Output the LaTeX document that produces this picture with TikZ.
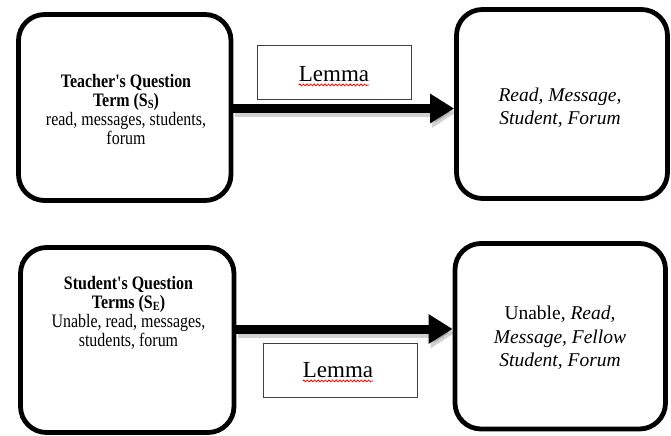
\documentclass[tikz,border=0pt]{standalone}
\usepackage{fontspec}
\setmainfont{Liberation Serif}
\newfontfamily\narrowserif{Liberation Serif}[FakeStretch=0.84]
\usetikzlibrary{arrows.meta,decorations.pathmorphing}

% small lowered index letter for the term-set names
\newcommand{\setindex}[1]{\raisebox{-1.5bp}{\fontsize{12.5bp}{12bp}\selectfont #1}}

\tikzset{
  termbox/.style={draw=black, line width=4.8bp, rounded corners=26bp, fill=white, inner sep=0pt},
  lemmabox/.style={draw=black!75, line width=0.9bp, fill=white, inner sep=0pt,
                   minimum width=154bp, minimum height=54bp},
  lemmatext/.style={font=\fontsize{23bp}{26bp}\selectfont, inner sep=0pt},
  querytext/.style={font=\narrowserif\fontsize{19bp}{19bp}\selectfont, align=center, inner sep=0pt},
  resulttext/.style={font=\fontsize{19.5bp}{23.5bp}\selectfont, align=center, inner sep=0pt},
  flowarrow/.style={line width=9bp, -{Triangle[length=24bp, width=28bp]}},
  arrowshadow/.style={line width=10bp, black, opacity=0.18, -{Triangle[length=24bp, width=29bp]}},
  spellmark/.style={draw=red, line width=0.8bp, decorate,
                    decoration={snake, amplitude=0.9bp, segment length=3.6bp}}
}

\begin{document}
\begin{tikzpicture}[x=1bp, y=-1bp]
  \useasboundingbox (0,0) rectangle (671,436);

  % term boxes
  \node[termbox, minimum width=212.5bp, minimum height=186bp] (tq) at (124.75,107.5) {};
  \node[termbox, minimum width=211bp, minimum height=189bp] (tr) at (562,104) {};
  \node[termbox, minimum width=213.5bp, minimum height=185bp] (sq) at (127.25,340) {};
  \node[termbox, minimum width=210.5bp, minimum height=185.5bp] (sr) at (560.25,336.25) {};

  % box contents
  \node[querytext] (tqt) at (126,110)
    {\textbf{Teacher's Question}\\\textbf{Term (S\setindex{S})}\\read, messages, students,\\forum};
  \node[resulttext] (trt) at (560,107.5)
    {\textit{Read, Message,}\\\textit{Student, Forum}};
  \node[querytext] (sqt) at (128.5,313)
    {\textbf{Student's Question}\\\textbf{Terms (S\setindex{E})}\\Unable, read, messages,\\students, forum};
  \node[resulttext] (srt) at (560,338)
    {Unable, \textit{Read,}\\\textit{Message, Fellow}\\\textit{Student, Forum}};

  % connectors
  \coordinate (a1s) at (tq.east |- 0,108.5);
  \coordinate (a1e) at (tr.west |- 0,108.5);
  \coordinate (a2s) at (sq.east |- 0,329);
  \coordinate (a2e) at (sr.west |- 0,329);
  \draw[arrowshadow] ([shift={(2,4)}]a1s) -- ([shift={(2,4)}]a1e);
  \draw[arrowshadow] ([shift={(2,4)}]a2s) -- ([shift={(2,4)}]a2e);
  \draw[flowarrow] (a1s) -- (a1e);
  \draw[flowarrow] (a2s) -- (a2e);

  % lemma labels
  \node[lemmabox] (lm1) at (334,72) {};
  \node[lemmatext] (lm1t) at (334,74.5) {Lemma};
  \draw[spellmark] ([yshift=-3bp]lm1t.base west) -- ([yshift=-3bp]lm1t.base east);

  \node[lemmabox] (lm2) at (340,370) {};
  \node[lemmatext] (lm2t) at (338,370.5) {Lemma};
  \draw[spellmark] ([yshift=-3bp]lm2t.base west) -- ([yshift=-3bp]lm2t.base east);
\end{tikzpicture}
\end{document}
